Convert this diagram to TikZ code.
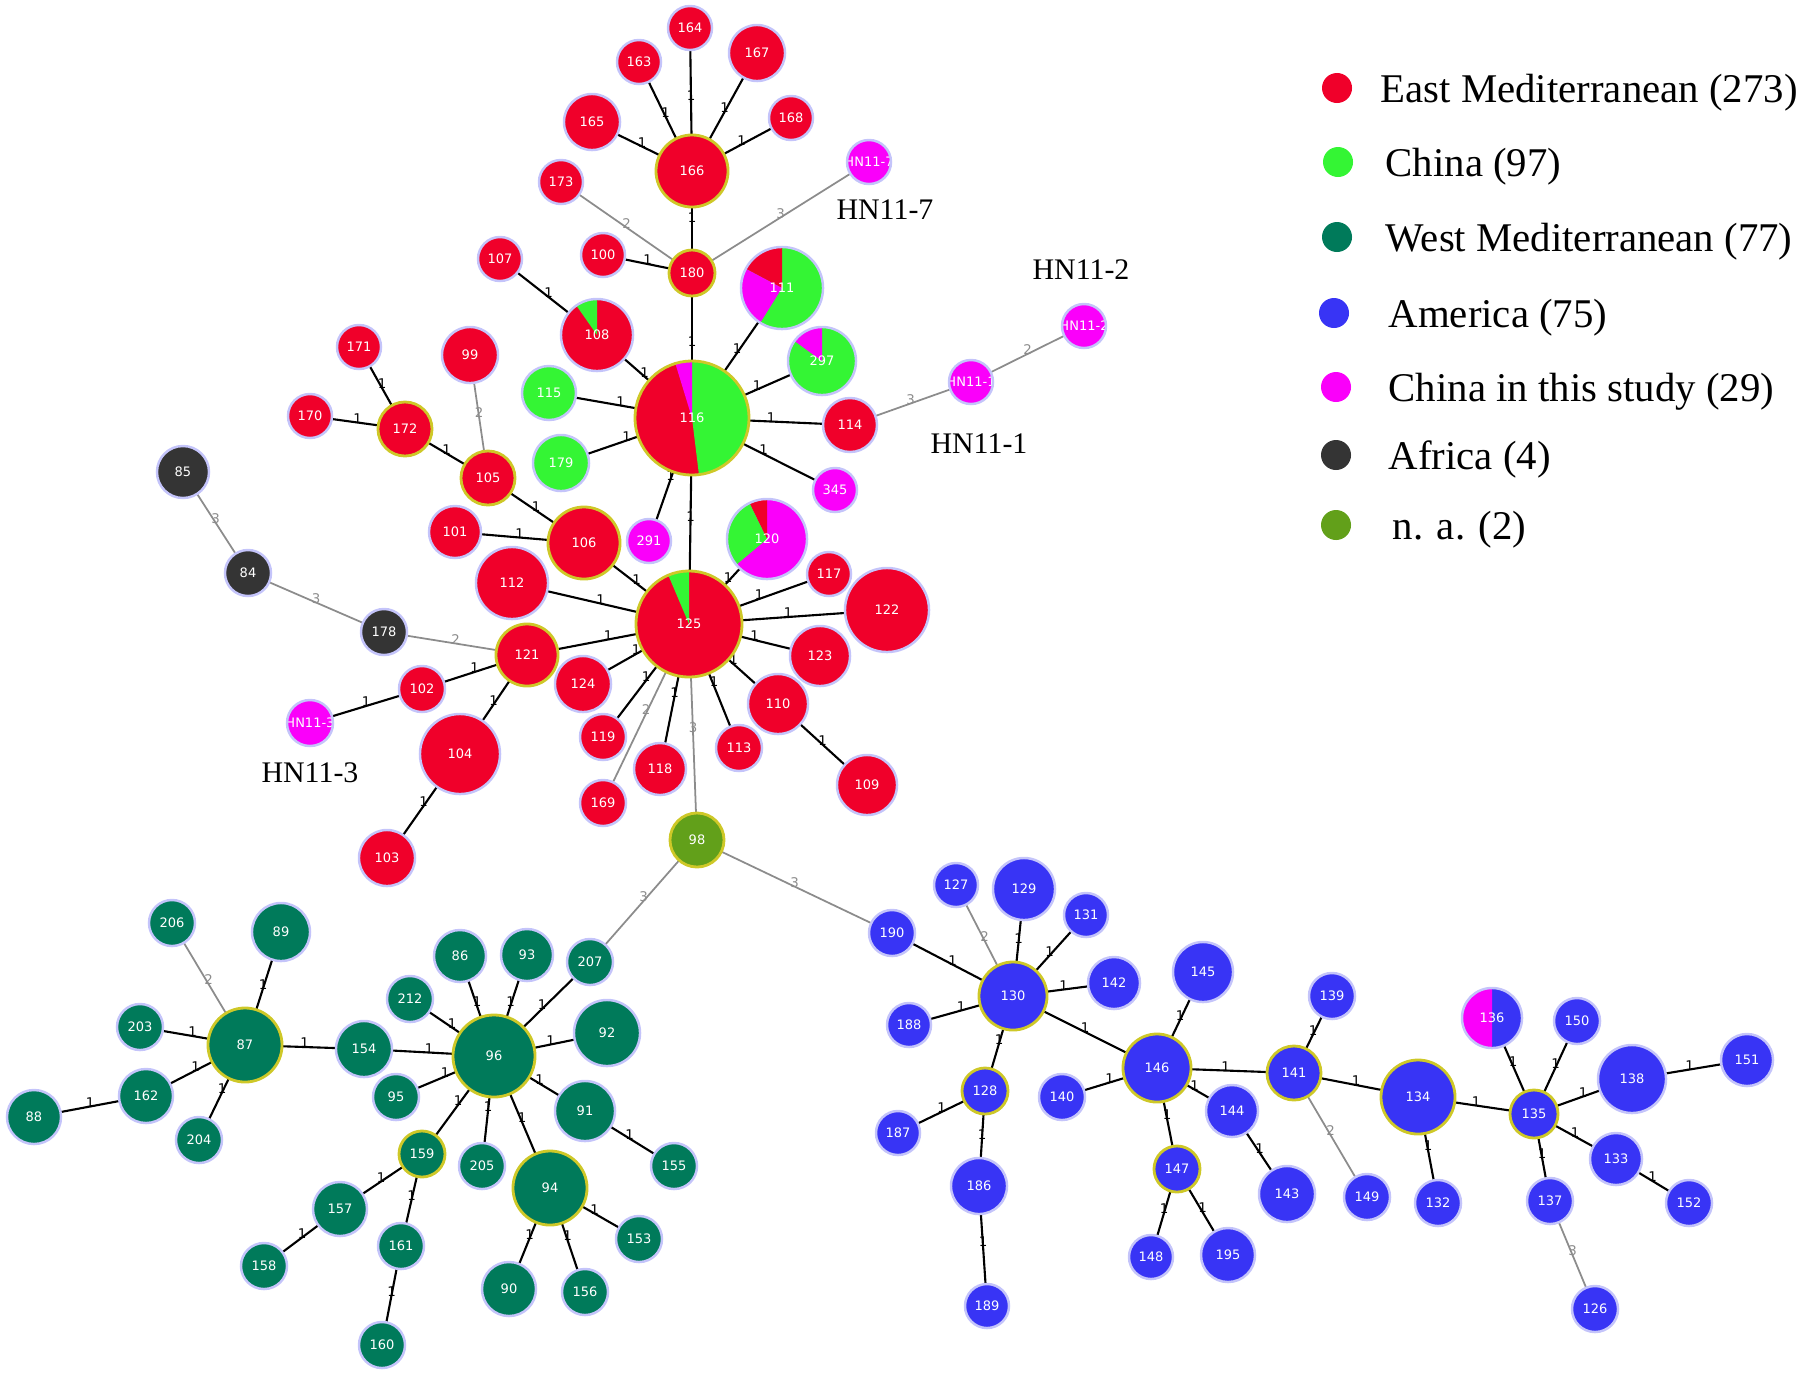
\documentclass[tikz,border=0pt]{standalone}
\usepackage{fontspec}
\setmainfont{Liberation Serif}
\newfontfamily\hapfont{DejaVu Sans}
\usetikzlibrary{backgrounds}
\definecolor{emed}{RGB}{240,0,42}
\definecolor{chn}{RGB}{52,245,52}
\definecolor{wmed}{RGB}{0,122,90}
\definecolor{amer}{RGB}{56,52,245}
\definecolor{cnst}{RGB}{250,0,250}
\definecolor{afr}{RGB}{52,52,52}
\definecolor{nna}{RGB}{98,160,26}
\definecolor{halo}{RGB}{196,196,250}
\definecolor{hubring}{RGB}{206,200,40}
\definecolor{lkgray}{RGB}{140,140,140}
\newcommand{\wedgefill}[3]{\fill[#1] (path picture bounding box.center) -- ++(#2:1cm) arc[start angle=#2, end angle=#3, radius=1cm] -- cycle;}
\tikzset{
  hap/.style={circle, inner sep=0pt, minimum size=#1*0.02cm, draw=halo, line width=0.7pt, text=white, font={\hapfont\fontsize{3.7}{4}\selectfont}},
  em/.style={hap=#1, fill=emed},
  cn/.style={hap=#1, fill=chn},
  wm/.style={hap=#1, fill=wmed},
  am/.style={hap=#1, fill=amer},
  st/.style={hap=#1, fill=cnst},
  af/.style={hap=#1, fill=afr},
  na/.style={hap=#1, fill=nna},
  hub/.style={draw=hubring, line width=0.8pt},
  hntext/.style={path picture={\node[rectangle, minimum size=0pt, draw=none, fill=none, inner sep=0pt, text=white, font={\hapfont\fontsize{3.7}{4}\selectfont}] at (path picture bounding box.center) {#1};}},
  lk/.style={draw=black, line width=0.6pt},
  lkg/.style={draw=lkgray, line width=0.5pt},
  w/.style={midway, above=-0.9pt, inner sep=0.4pt, text=black, font={\hapfont\fontsize{3.8}{4}\selectfont}},
  wg/.style={w, text=lkgray},
  hnlab/.style={inner sep=0pt, font={\fontsize{8.5}{10}\selectfont}},
  keydot/.style={circle, inner sep=0pt, minimum size=0.3cm},
  keytxt/.style={anchor=base west, inner sep=0pt, font={\fontsize{11.6}{14}\selectfont}},
}
\begin{document}
\begin{tikzpicture}[x=0.01cm, y=-0.01cm]
\useasboundingbox (0,0) rectangle (1800,1375);

\node[em=22] (n164) at (690,28) {164};
\node[em=22] (n163) at (639,62) {163};
\node[em=28] (n167) at (757,53) {167};
\node[em=28] (n165) at (592,122) {165};
\node[em=22] (n168) at (791,118) {168};
\node[em=36, hub] (n166) at (692,171) {166};
\node[st=22, hntext={HN11-7}] (nh7) at (869,162) {};
\node[em=22] (n173) at (561,182) {173};
\node[em=22] (n107) at (500,259) {107};
\node[em=22] (n100) at (603,255) {100};
\node[em=23, hub] (n180) at (692,273) {180};
\node[cn=41, path picture={\wedgefill{emed}{90}{152}\wedgefill{cnst}{152}{238}}] (n111) at (782,288) {111};
\node[em=36, path picture={\wedgefill{chn}{90}{125}}] (n108) at (597,335) {108};
\node[cn=34, path picture={\wedgefill{cnst}{90}{144}}] (n297) at (822,361) {297};
\node[em=28] (n99) at (470,355) {99};
\node[em=22] (n171) at (359,347) {171};
\node[cn=27] (n115) at (549,393) {115};
\node[em=22] (n170) at (310,416) {170};
\node[em=27, hub] (n172) at (405,429) {172};
\node[em=57, hub, path picture={\wedgefill{chn}{-83}{90}\wedgefill{cnst}{90}{107}}] (n116) at (692,418) {116};
\node[cn=28] (n179) at (561,463) {179};
\node[af=26] (n85) at (183,472) {85};
\node[em=27, hub] (n105) at (488,478) {105};
\node[em=27] (n114) at (850,425) {114};
\node[st=22, hntext={HN11-1}] (nh1) at (971,382) {};
\node[st=22, hntext={HN11-2}] (nh2) at (1084,326) {};
\node[st=22] (n345) at (835,490) {345};
\node[em=26] (n101) at (455,532) {101};
\node[em=36, hub] (n106) at (584,543) {106};
\node[st=22] (n291) at (649,541) {291};
\node[st=40, path picture={\wedgefill{emed}{90}{116}\wedgefill{chn}{116}{220}}] (n120) at (767,539) {120};
\node[af=23] (n84) at (248,573) {84};
\node[em=36] (n112) at (512,583) {112};
\node[em=22] (n117) at (829,574) {117};
\node[em=42] (n122) at (887,610) {122};
\node[em=53, hub, path picture={\wedgefill{chn}{90}{113}}] (n125) at (689,624) {125};
\node[af=23] (n178) at (384,632) {178};
\node[em=31, hub] (n121) at (527,655) {121};
\node[em=30] (n123) at (820,656) {123};
\node[em=28] (n124) at (583,684) {124};
\node[em=23] (n102) at (422,689) {102};
\node[st=23, hntext={HN11-3}] (nh3) at (310,723) {};
\node[em=30] (n110) at (778,704) {110};
\node[em=23] (n119) at (603,737) {119};
\node[em=23] (n113) at (739,748) {113};
\node[em=40] (n104) at (460,754) {104};
\node[em=26] (n118) at (660,769) {118};
\node[em=30] (n109) at (867,785) {109};
\node[em=23] (n169) at (603,803) {169};
\node[em=28] (n103) at (387,858) {103};
\node[na=27, hub] (n98) at (697,840) {98};

\node[hnlab] (l7) at (885,210) {HN11-7};
\node[hnlab] (l2) at (1081,270) {HN11-2};
\node[hnlab] (l1) at (979,444) {HN11-1};
\node[hnlab] (l3) at (310,773) {HN11-3};

\node[wm=23] (n206) at (172,923) {206};
\node[wm=29] (n89) at (281,932) {89};
\node[wm=23] (n203) at (140,1027) {203};
\node[wm=37, hub] (n87) at (245,1045) {87};
\node[wm=28] (n154) at (364,1049) {154};
\node[wm=27] (n162) at (146,1096) {162};
\node[wm=27] (n88) at (34,1117) {88};
\node[wm=23] (n204) at (199,1140) {204};
\node[wm=23] (n212) at (410,999) {212};
\node[wm=26] (n86) at (460,956) {86};
\node[wm=26] (n93) at (527,955) {93};
\node[wm=23] (n207) at (590,962) {207};
\node[wm=41, hub] (n96) at (494,1056) {96};
\node[wm=33] (n92) at (607,1033) {92};
\node[wm=23] (n95) at (396,1097) {95};
\node[wm=30] (n91) at (585,1111) {91};
\node[wm=23, hub] (n159) at (422,1154) {159};
\node[wm=23] (n205) at (482,1166) {205};
\node[wm=37, hub] (n94) at (550,1188) {94};
\node[wm=23] (n155) at (674,1166) {155};
\node[wm=27] (n157) at (340,1209) {157};
\node[wm=23] (n161) at (401,1246) {161};
\node[wm=23] (n153) at (639,1239) {153};
\node[wm=23] (n158) at (264,1266) {158};
\node[wm=27] (n90) at (509,1289) {90};
\node[wm=23] (n156) at (585,1292) {156};
\node[wm=23] (n160) at (382,1345) {160};

\node[am=23] (n190) at (892,933) {190};
\node[am=22] (n127) at (956,885) {127};
\node[am=31] (n129) at (1024,889) {129};
\node[am=22] (n131) at (1086,915) {131};
\node[am=34, hub] (n130) at (1013,996) {130};
\node[am=26] (n142) at (1114,983) {142};
\node[am=30] (n145) at (1203,972) {145};
\node[am=22] (n188) at (909,1025) {188};
\node[am=23, hub] (n128) at (985,1091) {128};
\node[am=34, hub] (n146) at (1157,1068) {146};
\node[am=23] (n140) at (1062,1097) {140};
\node[am=22] (n187) at (898,1133) {187};
\node[am=26] (n144) at (1232,1111) {144};
\node[am=23, hub] (n147) at (1177,1169) {147};
\node[am=28] (n186) at (979,1186) {186};
\node[am=28] (n143) at (1287,1194) {143};
\node[am=22] (n148) at (1151,1257) {148};
\node[am=27] (n195) at (1228,1255) {195};
\node[am=22] (n189) at (987,1306) {189};
\node[am=23] (n139) at (1332,996) {139};
\node[am=27, hub] (n141) at (1294,1073) {141};
\node[am=23] (n149) at (1367,1197) {149};
\node[am=37, hub] (n134) at (1418,1097) {134};
\node[am=23] (n132) at (1438,1203) {132};
\node[am=30, path picture={\wedgefill{cnst}{90}{270}}] (n136) at (1492,1018) {136};
\node[am=23] (n150) at (1577,1021) {150};
\node[am=24, hub] (n135) at (1534,1114) {135};
\node[am=34] (n138) at (1632,1079) {138};
\node[am=26] (n151) at (1747,1060) {151};
\node[am=26] (n133) at (1616,1159) {133};
\node[am=23] (n137) at (1550,1201) {137};
\node[am=23] (n152) at (1689,1203) {152};
\node[am=23] (n126) at (1595,1309) {126};

\begin{scope}[on background layer]
\draw[lk] (n164.center) -- (n166.center) node[w]{1};
\draw[lk] (n163.center) -- (n166.center) node[w]{1};
\draw[lk] (n167.center) -- (n166.center) node[w]{1};
\draw[lk] (n165.center) -- (n166.center) node[w]{1};
\draw[lk] (n168.center) -- (n166.center) node[w]{1};
\draw[lk] (n166.center) -- (n180.center) node[w]{1};
\draw[lkg] (n173.center) -- (n180.center) node[wg]{2};
\draw[lkg] (nh7.center) -- (n180.center) node[wg]{3};
\draw[lk] (n100.center) -- (n180.center) node[w]{1};
\draw[lk] (n180.center) -- (n116.center) node[w]{1};
\draw[lk] (n107.center) -- (n108.center) node[w]{1};
\draw[lk] (n108.center) -- (n116.center) node[w]{1};
\draw[lk] (n111.center) -- (n116.center) node[w]{1};
\draw[lk] (n297.center) -- (n116.center) node[w]{1};
\draw[lk] (n115.center) -- (n116.center) node[w]{1};
\draw[lk] (n179.center) -- (n116.center) node[w]{1};
\draw[lk] (n114.center) -- (n116.center) node[w]{1};
\draw[lk] (n345.center) -- (n116.center) node[w]{1};
\draw[lk] (n291.center) -- (n116.center) node[w]{1};
\draw[lk] (n116.center) -- (n125.center) node[w]{1};
\draw[lkg] (n114.center) -- (nh1.center) node[wg]{3};
\draw[lkg] (nh1.center) -- (nh2.center) node[wg]{2};
\draw[lk] (n106.center) -- (n125.center) node[w]{1};
\draw[lk] (n105.center) -- (n106.center) node[w]{1};
\draw[lk] (n101.center) -- (n106.center) node[w]{1};
\draw[lk] (n172.center) -- (n105.center) node[w]{1};
\draw[lk] (n171.center) -- (n172.center) node[w]{1};
\draw[lk] (n170.center) -- (n172.center) node[w]{1};
\draw[lkg] (n99.center) -- (n105.center) node[wg]{2};
\draw[lk] (n112.center) -- (n125.center) node[w]{1};
\draw[lk] (n121.center) -- (n125.center) node[w]{1};
\draw[lk] (n124.center) -- (n125.center) node[w]{1};
\draw[lk] (n119.center) -- (n125.center) node[w]{1};
\draw[lk] (n118.center) -- (n125.center) node[w]{1};
\draw[lk] (n113.center) -- (n125.center) node[w]{1};
\draw[lk] (n110.center) -- (n125.center) node[w]{1};
\draw[lk] (n109.center) -- (n110.center) node[w]{1};
\draw[lk] (n123.center) -- (n125.center) node[w]{1};
\draw[lk] (n122.center) -- (n125.center) node[w]{1};
\draw[lk] (n117.center) -- (n125.center) node[w]{1};
\draw[lk] (n120.center) -- (n125.center) node[w]{1};
\draw[lkg] (n169.center) -- (n125.center) node[wg]{2};
\draw[lkg] (n98.center) -- (n125.center) node[wg]{3};
\draw[lkg] (n178.center) -- (n121.center) node[wg]{2};
\draw[lkg] (n84.center) -- (n178.center) node[wg]{3};
\draw[lkg] (n85.center) -- (n84.center) node[wg]{3};
\draw[lk] (n102.center) -- (n121.center) node[w]{1};
\draw[lk] (nh3.center) -- (n102.center) node[w]{1};
\draw[lk] (n104.center) -- (n121.center) node[w]{1};
\draw[lk] (n103.center) -- (n104.center) node[w]{1};

\draw[lkg] (n98.center) -- (n207.center) node[wg]{3};
\draw[lkg] (n206.center) -- (n87.center) node[wg]{2};
\draw[lk] (n89.center) -- (n87.center) node[w]{1};
\draw[lk] (n203.center) -- (n87.center) node[w]{1};
\draw[lk] (n162.center) -- (n87.center) node[w]{1};
\draw[lk] (n204.center) -- (n87.center) node[w]{1};
\draw[lk] (n88.center) -- (n162.center) node[w]{1};
\draw[lk] (n87.center) -- (n154.center) node[w]{1};
\draw[lk] (n154.center) -- (n96.center) node[w]{1};
\draw[lk] (n212.center) -- (n96.center) node[w]{1};
\draw[lk] (n86.center) -- (n96.center) node[w]{1};
\draw[lk] (n93.center) -- (n96.center) node[w]{1};
\draw[lk] (n207.center) -- (n96.center) node[w]{1};
\draw[lk] (n92.center) -- (n96.center) node[w]{1};
\draw[lk] (n95.center) -- (n96.center) node[w]{1};
\draw[lk] (n91.center) -- (n96.center) node[w]{1};
\draw[lk] (n159.center) -- (n96.center) node[w]{1};
\draw[lk] (n205.center) -- (n96.center) node[w]{1};
\draw[lk] (n94.center) -- (n96.center) node[w]{1};
\draw[lk] (n91.center) -- (n155.center) node[w]{1};
\draw[lk] (n94.center) -- (n153.center) node[w]{1};
\draw[lk] (n94.center) -- (n90.center) node[w]{1};
\draw[lk] (n94.center) -- (n156.center) node[w]{1};
\draw[lk] (n159.center) -- (n157.center) node[w]{1};
\draw[lk] (n159.center) -- (n161.center) node[w]{1};
\draw[lk] (n157.center) -- (n158.center) node[w]{1};
\draw[lk] (n161.center) -- (n160.center) node[w]{1};

\draw[lkg] (n98.center) -- (n190.center) node[wg]{3};
\draw[lkg] (n127.center) -- (n130.center) node[wg]{2};
\draw[lkg] (n141.center) -- (n149.center) node[wg]{2};
\draw[lkg] (n137.center) -- (n126.center) node[wg]{3};
\draw[lk] (n190.center) -- (n130.center) node[w]{1};
\draw[lk] (n129.center) -- (n130.center) node[w]{1};
\draw[lk] (n131.center) -- (n130.center) node[w]{1};
\draw[lk] (n142.center) -- (n130.center) node[w]{1};
\draw[lk] (n188.center) -- (n130.center) node[w]{1};
\draw[lk] (n128.center) -- (n130.center) node[w]{1};
\draw[lk] (n130.center) -- (n146.center) node[w]{1};
\draw[lk] (n128.center) -- (n187.center) node[w]{1};
\draw[lk] (n128.center) -- (n186.center) node[w]{1};
\draw[lk] (n186.center) -- (n189.center) node[w]{1};
\draw[lk] (n145.center) -- (n146.center) node[w]{1};
\draw[lk] (n140.center) -- (n146.center) node[w]{1};
\draw[lk] (n146.center) -- (n141.center) node[w]{1};
\draw[lk] (n144.center) -- (n146.center) node[w]{1};
\draw[lk] (n147.center) -- (n146.center) node[w]{1};
\draw[lk] (n144.center) -- (n143.center) node[w]{1};
\draw[lk] (n147.center) -- (n148.center) node[w]{1};
\draw[lk] (n147.center) -- (n195.center) node[w]{1};
\draw[lk] (n139.center) -- (n141.center) node[w]{1};
\draw[lk] (n141.center) -- (n134.center) node[w]{1};
\draw[lk] (n134.center) -- (n132.center) node[w]{1};
\draw[lk] (n134.center) -- (n135.center) node[w]{1};
\draw[lk] (n136.center) -- (n135.center) node[w]{1};
\draw[lk] (n150.center) -- (n135.center) node[w]{1};
\draw[lk] (n138.center) -- (n135.center) node[w]{1};
\draw[lk] (n133.center) -- (n135.center) node[w]{1};
\draw[lk] (n137.center) -- (n135.center) node[w]{1};
\draw[lk] (n138.center) -- (n151.center) node[w]{1};
\draw[lk] (n133.center) -- (n152.center) node[w]{1};
\end{scope}

\node[keydot, fill=emed] (k1) at (1337,88) {};
\node[keytxt] (t1) at (1380,102) {East Mediterranean (273)};
\node[keydot, fill=chn] (k2) at (1338,162) {};
\node[keytxt] (t2) at (1385,176) {China (97)};
\node[keydot, fill=wmed] (k3) at (1337,237) {};
\node[keytxt] (t3) at (1385,251) {West Mediterranean (77)};
\node[keydot, fill=amer] (k4) at (1334,313) {};
\node[keytxt] (t4) at (1388,327) {America (75)};
\node[keydot, fill=cnst] (k5) at (1336,387) {};
\node[keytxt] (t5) at (1388,401) {China in this study (29)};
\node[keydot, fill=afr] (k6) at (1336,455) {};
\node[keytxt] (t6) at (1388,469) {Africa (4)};
\node[keydot, fill=nna] (k7) at (1336,525) {};
\node[keytxt] (t7) at (1392,539) {n. a. (2)};
\end{tikzpicture}
\end{document}
